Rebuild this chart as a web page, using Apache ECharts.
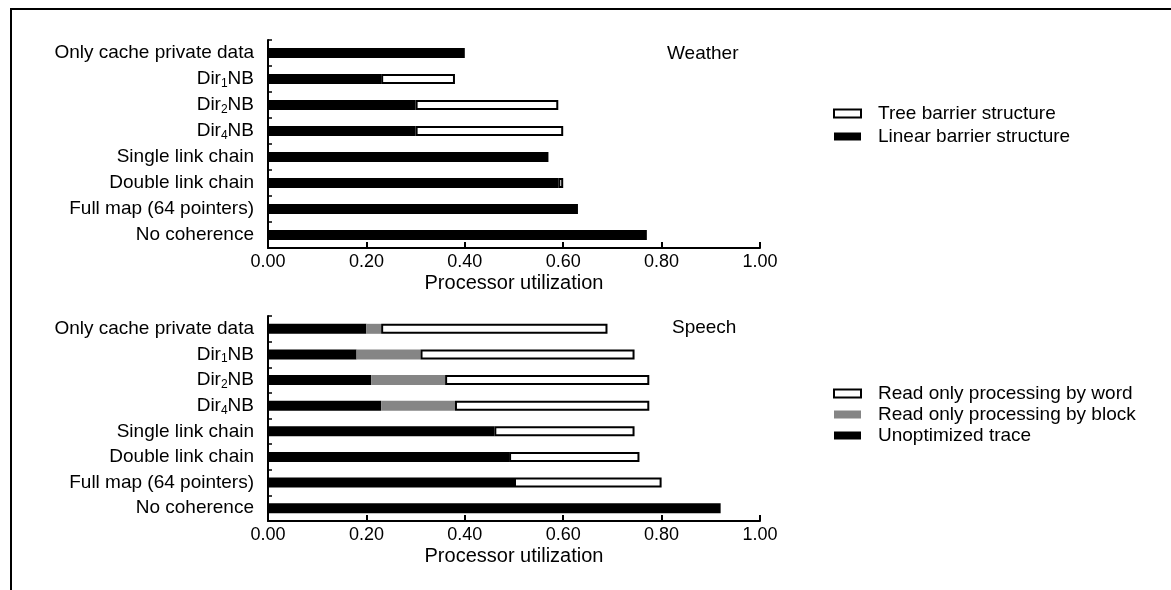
<!DOCTYPE html>
<html lang="en">
<head>
    <meta charset="utf-8">
    <title>Processor utilization</title>
    <script src="https://cdn.jsdelivr.net/npm/echarts@6/dist/echarts.min.js"></script>
    <style>
        body { margin: 0; background: #fff; }
        #main { width: 1171px; height: 590px; }
    </style>
</head>
<body>
<div id="main"></div>
<script>
    // categories, top to bottom
    var categories = ['Only cache private data', 'Dir1NB', 'Dir2NB', 'Dir4NB',
        'Single link chain', 'Double link chain', 'Full map (64 pointers)', 'No coherence'];
    var xTicks = [0, 0.2, 0.4, 0.6, 0.8, 1.0];

    // Weather: utilization (end of each bar), null = no bar of that kind
    var weatherLinear = [0.40, 0.23, 0.30, 0.30, 0.57, 0.59, 0.63, 0.77];
    var weatherTree   = [null, 0.38, 0.59, 0.60, null, 0.60, null, null];

    // Speech
    var speechUnopt = [0.20, 0.18, 0.21, 0.23, 0.46, 0.49, 0.50, 0.92];
    var speechBlock = [0.23, 0.31, 0.36, 0.38, null, null, null, null];
    var speechWord  = [0.69, 0.745, 0.775, 0.775, 0.745, 0.755, 0.80, null];

    var FONT = "'Liberation Sans', Arial, Helvetica, sans-serif";

    function diff(top, base) {
        return top.map(function (v, i) {
            if (v == null) return '-';
            return Math.round((v - base[i]) * 1000) / 1000;
        });
    }
    var weatherTreeInc = diff(weatherTree, weatherLinear);
    var speechBlockInc = diff(speechBlock, speechUnopt);
    var speechWordInc = speechWord.map(function (v, i) {
        if (v == null) return '-';
        var b = speechBlock[i] != null ? speechBlock[i] : speechUnopt[i];
        return Math.round((v - b) * 1000) / 1000;
    });

    function catLabel(v) {
        var m = /^Dir(\d)NB$/.exec(v);
        if (m) return '{n|Dir}{s|' + m[1] + '}{n|NB}';
        return '{n|' + v + '}';
    }

    function xAxisOf(idx) {
        return {
            type: 'value', gridIndex: idx, min: xTicks[0], max: xTicks[xTicks.length - 1], interval: 0.2,
            name: 'Processor utilization', nameLocation: 'middle', nameGap: 25,
            nameTextStyle: { color: '#000', fontSize: 20, fontFamily: FONT },
            axisLine: { show: true, lineStyle: { color: '#000', width: 2 } },
            axisTick: { show: true, inside: true, length: 6, lineStyle: { color: '#000', width: 2 } },
            axisLabel: { color: '#000', fontSize: 18, fontFamily: FONT, margin: 5,
                formatter: function (v) { return v.toFixed(2); } },
            splitLine: { show: false }
        };
    }
    function yAxisOf(idx) {
        return {
            type: 'category', gridIndex: idx, data: categories, inverse: true,
            axisLine: { show: true, lineStyle: { color: '#000', width: 2 } },
            axisTick: { show: true, inside: true, length: 4, lineStyle: { color: '#000', width: 1.5 } },
            axisLabel: {
                margin: 14, formatter: catLabel,
                rich: {
                    n: { color: '#000', fontSize: 19, fontFamily: FONT },
                    s: { color: '#000', fontSize: 12, fontFamily: FONT, padding: [9, 0, 0, 0] }
                }
            }
        };
    }

    var black = { color: '#000' };
    var white = { color: '#fff', borderColor: '#000', borderWidth: 2 };
    var grey = { color: '#858585' };

    var chart = echarts.init(document.getElementById('main'));
    var titleStyle = { fontSize: 19, fontWeight: 'normal', color: '#000', fontFamily: FONT };
    var legendText = { color: '#000', fontSize: 19, fontFamily: FONT, padding: [0, 0, 0, 12] };
    var option = {
        backgroundColor: '#fff',
        animation: false,
        textStyle: { fontFamily: FONT },
        title: [
            { text: 'Weather', left: 662, top: 39, textStyle: titleStyle },
            { text: 'Speech', left: 667, top: 313, textStyle: titleStyle }
        ],
        legend: [
            {
                left: 828, top: 99, orient: 'vertical', itemWidth: 27, itemHeight: 8, itemGap: 4,
                icon: 'rect', selectedMode: false, textStyle: legendText,
                data: ['Tree barrier structure', 'Linear barrier structure']
            },
            {
                left: 828, top: 379, orient: 'vertical', itemWidth: 27, itemHeight: 8, itemGap: 2,
                icon: 'rect', selectedMode: false, textStyle: legendText,
                data: ['Read only processing by word', 'Read only processing by block', 'Unoptimized trace']
            }
        ],
        grid: [
            { left: 268, width: 492, top: 40, height: 208 },
            { left: 268, width: 492, top: 316, height: 205 }
        ],
        xAxis: [xAxisOf(0), xAxisOf(1)],
        yAxis: [yAxisOf(0), yAxisOf(1)],
        series: [
            { name: 'Linear barrier structure', type: 'bar', stack: 'w', xAxisIndex: 0, yAxisIndex: 0,
              barWidth: 10, itemStyle: black, data: weatherLinear },
            { name: 'Tree barrier structure', type: 'bar', stack: 'w', xAxisIndex: 0, yAxisIndex: 0,
              barWidth: 10, itemStyle: white, data: weatherTreeInc },
            { name: 'Unoptimized trace', type: 'bar', stack: 's', xAxisIndex: 1, yAxisIndex: 1,
              barWidth: 10, itemStyle: black, data: speechUnopt },
            { name: 'Read only processing by block', type: 'bar', stack: 's', xAxisIndex: 1, yAxisIndex: 1,
              barWidth: 10, itemStyle: grey, data: speechBlockInc },
            { name: 'Read only processing by word', type: 'bar', stack: 's', xAxisIndex: 1, yAxisIndex: 1,
              barWidth: 10, itemStyle: white, data: speechWordInc }
        ],
        graphic: [
            { type: 'polyline', silent: true,
              shape: { points: [[11, 590], [11, 9], [1171, 9]] },
              style: { stroke: '#000', lineWidth: 2, fill: null } }
        ]
    };
    chart.setOption(option);
    window.onresize = chart.resize;
</script>
</body>
</html>
